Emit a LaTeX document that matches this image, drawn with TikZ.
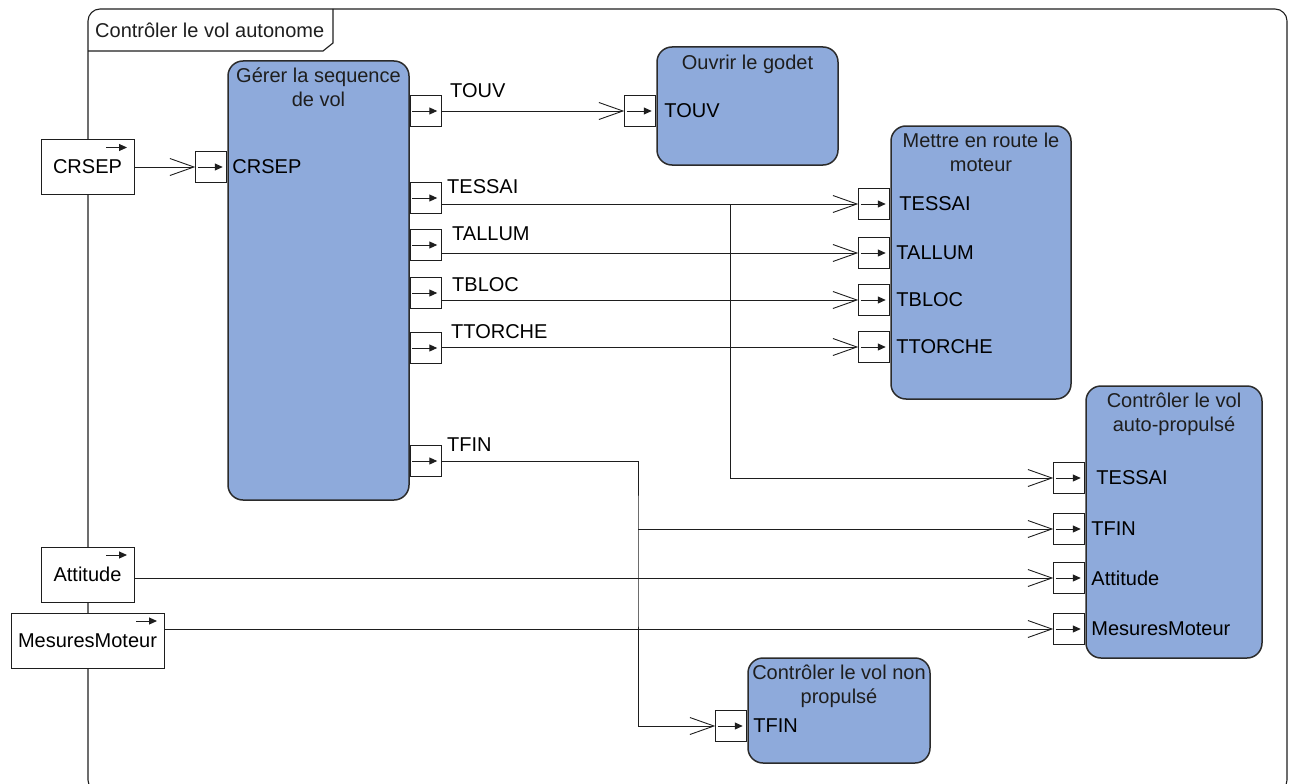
\documentclass[tikz,border=0pt]{standalone}
\usepackage{fontspec}
\setmainfont{Liberation Sans}
\usepackage{tikz}
\usetikzlibrary{arrows.meta, calc}
\definecolor{fn-blue}{HTML}{8EAADB}
\definecolor{fn-edge}{HTML}{2B2B2B}
\definecolor{ink}{HTML}{1E1E1E}

\begin{document}
\begin{tikzpicture}[
  x=1pt, y=-1pt,
  every node/.style={font=\fontsize{20}{24}\selectfont},
  func/.style={rectangle, rounded corners=15pt, draw=fn-edge, line width=1.5pt,
               fill=fn-blue, inner sep=0pt},
  fntitle/.style={anchor=base, align=center, inner sep=0pt, text=ink},
  plabel/.style={inner sep=0pt, text=black},
  fport/.style={rectangle, draw=ink, fill=white, line width=1pt,
                minimum width=31pt, minimum height=31pt, inner sep=0pt,
                path picture={\draw[-{Triangle[length=8pt,width=7pt]}, line width=1pt, ink]
                  ([xshift=2pt]path picture bounding box.west) --
                  ([xshift=-4pt]path picture bounding box.east);}},
  bound/.style={rectangle, draw=ink, fill=white, line width=1pt,
                minimum height=55pt, inner sep=0pt,
                path picture={\draw[-{Triangle[length=8pt,width=7pt]}, line width=1pt, ink]
                  ([xshift=-28pt,yshift=-8pt]path picture bounding box.north east) -- ++(21pt,0pt);}},
  flow/.style={line width=0.9pt, draw=ink, -{Straight Barb[length=24pt,width=17pt]}}
]
  \useasboundingbox (0,0) rectangle (1293,784);
  \clip (0,0) rectangle (1293,784);

  % frame of the enclosing function
  \draw[ink, line width=1.1pt, rounded corners=12pt] (88,9) rectangle (1287,792);
  \draw[ink, line width=1.1pt] (333,9) -- (333,43) -- (323,51) -- (88,51);
  \node[anchor=base west, inner sep=0pt, text=ink] (frameTitle) at (95,38) {Contrôler le vol autonome};

  % function blocks
  \node[func, minimum width=181pt, minimum height=439pt] (gerer) at (318.5,280.5) {};
  \node[func, minimum width=181pt, minimum height=118pt] (godet) at (747.5,106) {};
  \node[func, minimum width=180pt, minimum height=273pt] (moteur) at (981,262.5) {};
  \node[func, minimum width=176pt, minimum height=272pt] (autoprop) at (1174,522) {};
  \node[func, minimum width=182pt, minimum height=105pt] (nonprop) at (839,710.5) {};

  % (base of a two-line title is its last line)
  \node[fntitle] (tGerer) at ($(gerer.north)+(0,46)$) {Gérer la sequence\\de vol};
  \node[fntitle] (tGodet) at ($(godet.north)+(0,23)$) {Ouvrir le godet};
  \node[fntitle] (tMoteur) at ($(moteur.north)+(0,46)$) {Mettre en route le\\moteur};
  \node[fntitle] (tAutoprop) at ($(autoprop.north)+(0,46)$) {Contrôler le vol\\auto-propulsé};
  \node[fntitle] (tNonprop) at ($(nonprop.north)+(0,46)$) {Contrôler le vol non\\propulsé};

  % ports of "Gerer la sequence de vol"
  \node[fport, anchor=east] (iCRSEP) at (gerer.west |- 0,167) {};
  \node[plabel, anchor=west] (lCRSEP) at ([xshift=5pt]iCRSEP.east) {CRSEP};
  \node[fport, anchor=west] (oTOUV) at (gerer.east |- 0,111) {};
  \node[fport, anchor=west] (oTESSAI) at (gerer.east |- 0,198) {};
  \node[fport, anchor=west] (oTALLUM) at (gerer.east |- 0,245) {};
  \node[fport, anchor=west] (oTBLOC) at (gerer.east |- 0,293) {};
  \node[fport, anchor=west] (oTTORCHE) at (gerer.east |- 0,348) {};
  \node[fport, anchor=west] (oTFIN) at (gerer.east |- 0,461) {};
  \node[plabel, anchor=base west] (loTOUV) at (450,97) {TOUV};
  \node[plabel, anchor=base west] (loTESSAI) at (447,193) {TESSAI};
  \node[plabel, anchor=base west] (loTALLUM) at (452,240) {TALLUM};
  \node[plabel, anchor=base west] (loTBLOC) at (452,291) {TBLOC};
  \node[plabel, anchor=base west] (loTTORCHE) at (451,338) {TTORCHE};
  \node[plabel, anchor=base west] (loTFIN) at (447,451) {TFIN};

  % ports of the other blocks
  \node[fport, anchor=east] (gTOUV) at (godet.west |- 0,111) {};
  \node[plabel, anchor=west] (lgTOUV) at ([xshift=8pt]gTOUV.east) {TOUV};

  \node[fport, anchor=east] (mTESSAI) at (moteur.west |- 0,204) {};
  \node[fport, anchor=east] (mTALLUM) at (moteur.west |- 0,253) {};
  \node[fport, anchor=east] (mTBLOC) at (moteur.west |- 0,300) {};
  \node[fport, anchor=east] (mTTORCHE) at (moteur.west |- 0,347) {};
  \node[plabel, anchor=west] (lmTESSAI) at ([xshift=9pt]mTESSAI.east) {TESSAI};
  \node[plabel, anchor=west] (lmTALLUM) at ([xshift=6pt]mTALLUM.east) {TALLUM};
  \node[plabel, anchor=west] (lmTBLOC) at ([xshift=6pt]mTBLOC.east) {TBLOC};
  \node[plabel, anchor=west] (lmTTORCHE) at ([xshift=6pt]mTTORCHE.east) {TTORCHE};

  \node[fport, anchor=east] (aTESSAI) at (autoprop.west |- 0,478) {};
  \node[fport, anchor=east] (aTFIN) at (autoprop.west |- 0,529) {};
  \node[fport, anchor=east] (aAttitude) at (autoprop.west |- 0,578) {};
  \node[fport, anchor=east] (aMesures) at (autoprop.west |- 0,629) {};
  \node[plabel, anchor=west] (laTESSAI) at ([xshift=11pt]aTESSAI.east) {TESSAI};
  \node[plabel, anchor=west] (laTFIN) at ([xshift=6pt]aTFIN.east) {TFIN};
  \node[plabel, anchor=west] (laAttitude) at ([xshift=6pt]aAttitude.east) {Attitude};
  \node[plabel, anchor=west] (laMesures) at ([xshift=6pt]aMesures.east) {MesuresMoteur};

  \node[fport, anchor=east] (nTFIN) at (nonprop.west |- 0,726) {};
  \node[plabel, anchor=west] (lnTFIN) at ([xshift=6pt]nTFIN.east) {TFIN};

  % boundary flows on the frame
  \node[bound, minimum width=93pt] (crsep) at (87.5,167) {CRSEP};
  \node[bound, minimum width=93pt] (attitude) at (87.5,574.5) {Attitude};
  \node[bound, minimum width=153pt] (mesures) at (87.5,640.5) {MesuresMoteur};

  % flows
  \draw[flow] (crsep.east) -- (iCRSEP.west);
  \draw[flow] (oTOUV.east) -- (gTOUV.west);
  \draw[flow] (oTESSAI.east |- mTESSAI.west) -- (mTESSAI.west);
  \draw[flow] (oTALLUM.east |- mTALLUM.west) -- (mTALLUM.west);
  \draw[flow] (oTBLOC.east |- mTBLOC.west) -- (mTBLOC.west);
  \draw[flow] (oTTORCHE.east |- mTTORCHE.west) -- (mTTORCHE.west);
  \coordinate (jTESSAI) at (730,204);
  \draw[flow] (jTESSAI) |- (aTESSAI.west);
  \coordinate (jTFIN) at (638,529);
  \draw[flow] (oTFIN.east) -| (jTFIN) |- (nTFIN.west);
  \draw[flow] (jTFIN) -- (aTFIN.west);
  \draw[flow] (attitude.east |- aAttitude.west) -- (aAttitude.west);
  \draw[flow] (mesures.east |- aMesures.west) -- (aMesures.west);

\end{tikzpicture}
\end{document}
